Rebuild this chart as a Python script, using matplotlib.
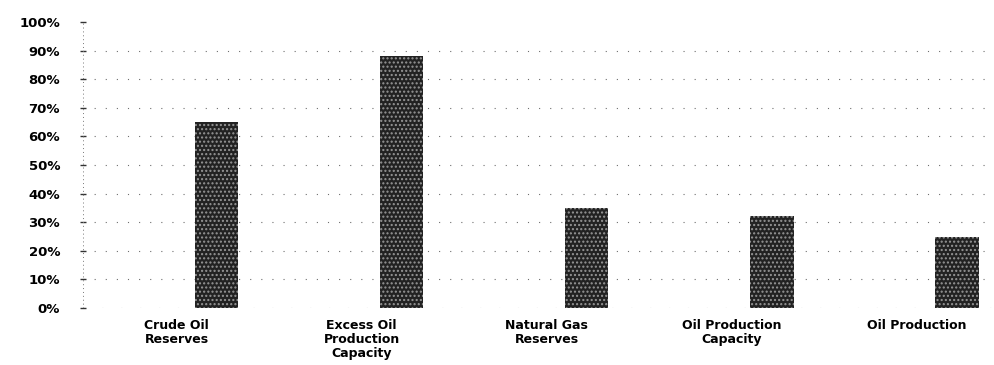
import matplotlib
matplotlib.use("Agg")
import matplotlib.pyplot as plt
import numpy as np

categories = ["Crude Oil\nReserves", "Excess Oil\nProduction\nCapacity",
              "Natural Gas\nReserves", "Oil Production\nCapacity", "Oil Production"]
shares = [65, 88, 35, 32, 25]
yticks = list(range(0, 101, 10))
ytick_labels = [f"{v}%" for v in yticks]

W, H = 994, 365
fig = plt.figure(figsize=(W / 100, H / 100), dpi=100)
fig.patch.set_facecolor("white")
ax = fig.add_axes([83 / W, (H - 308) / H, (W - 83) / W, (308 - 22) / H])

x = np.arange(len(categories))
# each bar sits right of its category slot, labels centred on the slot
ax.bar(x, shares, width=0.235, color="#222222", edgecolor="#969696",
       hatch="....", linewidth=0, zorder=3)

ax.set_xlim(-0.72, 4.2)
ax.set_ylim(0, 100)

for v in yticks[1:-1]:
    ax.axhline(v, color="#6f6f6f", lw=0.8, ls=(0, (1, 9)), zorder=1)
ax.axhline(0, color="#6f6f6f", lw=0.8, ls=(0, (1, 16)), zorder=1)
ax.axvline(-0.72, color="#777777", lw=0.7, ls=(0, (1, 3)), zorder=2)

for s in ax.spines.values():
    s.set_visible(False)

ax.set_yticks(yticks)
ax.set_yticklabels(ytick_labels, fontsize=9.5, fontweight="bold",
                   family="DejaVu Sans")
ax.tick_params(axis="y", length=5, width=1, color="#333333", pad=14,
               direction="inout")
ax.set_xticks(x - 0.215)
ax.set_xticklabels(categories, fontsize=9, fontweight="bold",
                   family="DejaVu Sans", linespacing=1.1)
ax.tick_params(axis="x", length=0, pad=8)

fig.savefig("out.png", dpi=100, facecolor="white")
